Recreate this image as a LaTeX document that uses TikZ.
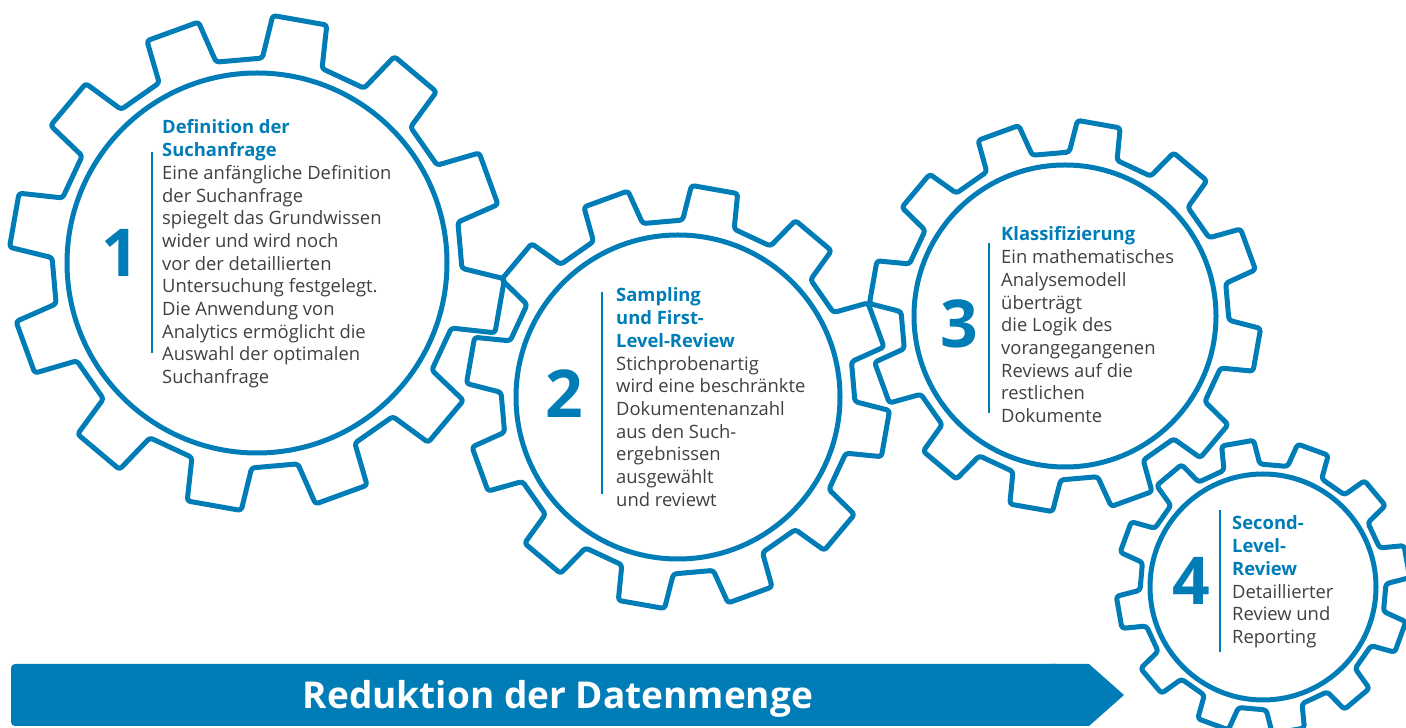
\documentclass[tikz,border=0pt]{standalone}
\usepackage{fontspec}
\setmainfont{Open Sans}
\definecolor{dblue}{RGB}{0,124,182}
\definecolor{dgray}{RGB}{64,64,64}
\tikzset{
  gearline/.style={draw=dblue, line width=5pt, rounded corners=3pt, line join=round},
  ringline/.style={draw=dblue, line width=5pt},
  barline/.style={draw=dblue, line width=2pt},
  numtext/.style={text=dblue, font=\fontsize{66}{66}\selectfont\bfseries, inner sep=0pt, anchor=base},
  steptext/.style={text=dgray, font=\fontsize{18.4}{22.7}\selectfont, align=left, inner sep=0pt, anchor=base west},
  bannertext/.style={text=white, font=\fontsize{37}{37}\selectfont\bfseries, inner sep=0pt, anchor=base},
}
\newcommand{\gearshape}[5]{% cx, cy, root radius, tip radius, phase
  \begin{scope}[shift={(#1,#2)}]
    \draw[gearline] ({#5-15}:{#3*0.9936})
      \foreach \a in {0,30,...,330}{
        -- ({#5+\a-8.5}:#3) -- ({#5+\a-6.35}:#4) -- ({#5+\a+6.35}:#4) -- ({#5+\a+8.5}:#3)
      } -- cycle;
  \end{scope}}
\newcommand{\tb}[1]{\textcolor{dblue}{\bfseries #1}}
\begin{document}
\begin{tikzpicture}[x=1pt,y=1pt]
\useasboundingbox (0,0) rectangle (1406,728);

% gears
\gearshape{257}{465}{205}{248}{20}
\draw[ringline] (257,465) circle[radius=190];
\gearshape{678}{331}{177}{212}{20}
\draw[ringline] (678,331) circle[radius=162];
\gearshape{1065}{412}{164}{196}{20}
\draw[ringline] (1065,412) circle[radius=151];
\gearshape{1263}{141}{123}{147}{10}
\draw[ringline] (1263,141) circle[radius=113];

% gear 1 (anchor = baseline of the last line)
\node[numtext] (n1) at (120,451) {1};
\draw[barline] (152,576) -- (152,375);
\node[steptext] (t1) at (162,344.3) {\tb{Definition der}\\\tb{Suchanfrage}\\Eine anfängliche Definition\\der Suchanfrage\\spiegelt das Grundwissen\\wider und wird noch\\vor der detaillierten\\Untersuchung festgelegt.\\Die Anwendung von\\Analytics ermöglicht die\\Auswahl der optimalen\\Suchanfrage};

% gear 2
\node[numtext] (n2) at (564,310) {2};
\draw[barline] (602,436) -- (602,234);
\node[steptext] (t2) at (616,221.7) {\tb{Sampling}\\\tb{und First-}\\\tb{Level-Review}\\Stichprobenartig\\wird eine beschränkte\\Dokumentenanzahl\\aus den Such-\\ergebnissen\\ausgewählt\\und reviewt};

% gear 3
\node[numtext] (n3) at (959,380) {3};
\draw[barline] (989,485) -- (989,315);
\node[steptext] (t3) at (1001,305.4) {\tb{Klassifizierung}\\Ein mathematisches\\Analysemodell\\überträgt\\die Logik des\\vorangegangenen\\Reviews auf die\\restlichen\\Dokumente};

% gear 4
\node[numtext] (n4) at (1191,123) {4};
\draw[barline] (1220,218) -- (1220,76);
\node[steptext] (t4) at (1232,84.5) {\tb{Second-}\\\tb{Level-}\\\tb{Review}\\Detaillierter\\Review und\\Reporting};

% banner
\fill[dblue, rounded corners=4pt] (11,2) rectangle (1060,64);
\fill[dblue] (1050,2) -- (1089,2) -- (1124,33) -- (1089,64) -- (1050,64) -- cycle;
\node[bannertext] (bt) at (558,19) {Reduktion der Datenmenge};
\end{tikzpicture}
\end{document}
